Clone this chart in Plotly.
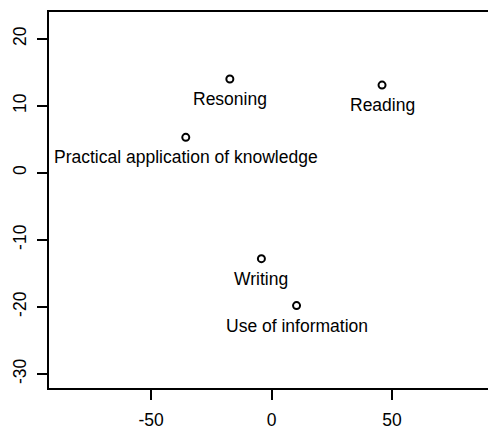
import plotly.graph_objects as go

labels = ["Resoning", "Reading", "Practical application of knowledge", "Writing", "Use of information"]
x_vals = [-17.3, 45.9, -35.6, -4.2, 10.4]
y_vals = [14.0, 13.1, 5.3, -12.8, -19.8]
x_ticks = [-50, 0, 50]
y_ticks = [-30, -20, -10, 0, 10, 20]

FONT = "Liberation Sans, Arial, sans-serif"
FS = 17.5

fig = go.Figure()
fig.add_trace(go.Scatter(
    x=x_vals, y=y_vals, mode="markers",
    marker=dict(symbol="circle-open", size=7, color="black", line=dict(width=2, color="black")),
    showlegend=False, hoverinfo="skip",
))
for lx, ly, lt in zip(x_vals, y_vals, labels):
    fig.add_annotation(x=lx, y=ly, text=lt, showarrow=False, xanchor="center", yanchor="middle",
                       yshift=-20, font=dict(family=FONT, size=FS, color="black"))

fig.update_layout(
    width=488, height=431,
    margin=dict(l=49, r=0, t=12, b=43, autoexpand=False),
    paper_bgcolor="white", plot_bgcolor="white",
    font=dict(family=FONT, size=FS, color="black"),
    xaxis=dict(range=[-92.4, 89.9], tickvals=x_ticks, ticktext=[str(v) for v in x_ticks],
               showgrid=False, zeroline=False, showline=True, linecolor="black", linewidth=1.5,
               mirror=True, ticks="outside", ticklen=10, tickwidth=1.5, tickcolor="black",
               ticklabelstandoff=5, automargin=False),
    yaxis=dict(range=[-32.1, 24.0], tickvals=y_ticks, ticktext=[str(v) for v in y_ticks],
               showgrid=False, zeroline=False, showline=True, linecolor="black", linewidth=1.5,
               mirror=False, ticks="outside", ticklen=10, tickwidth=1.5, tickcolor="black",
               tickangle=-90, ticklabelstandoff=4, automargin=False),
)
fig.write_html("out.html", config={"displayModeBar": False},
               post_script="document.body.style.margin='0';")
